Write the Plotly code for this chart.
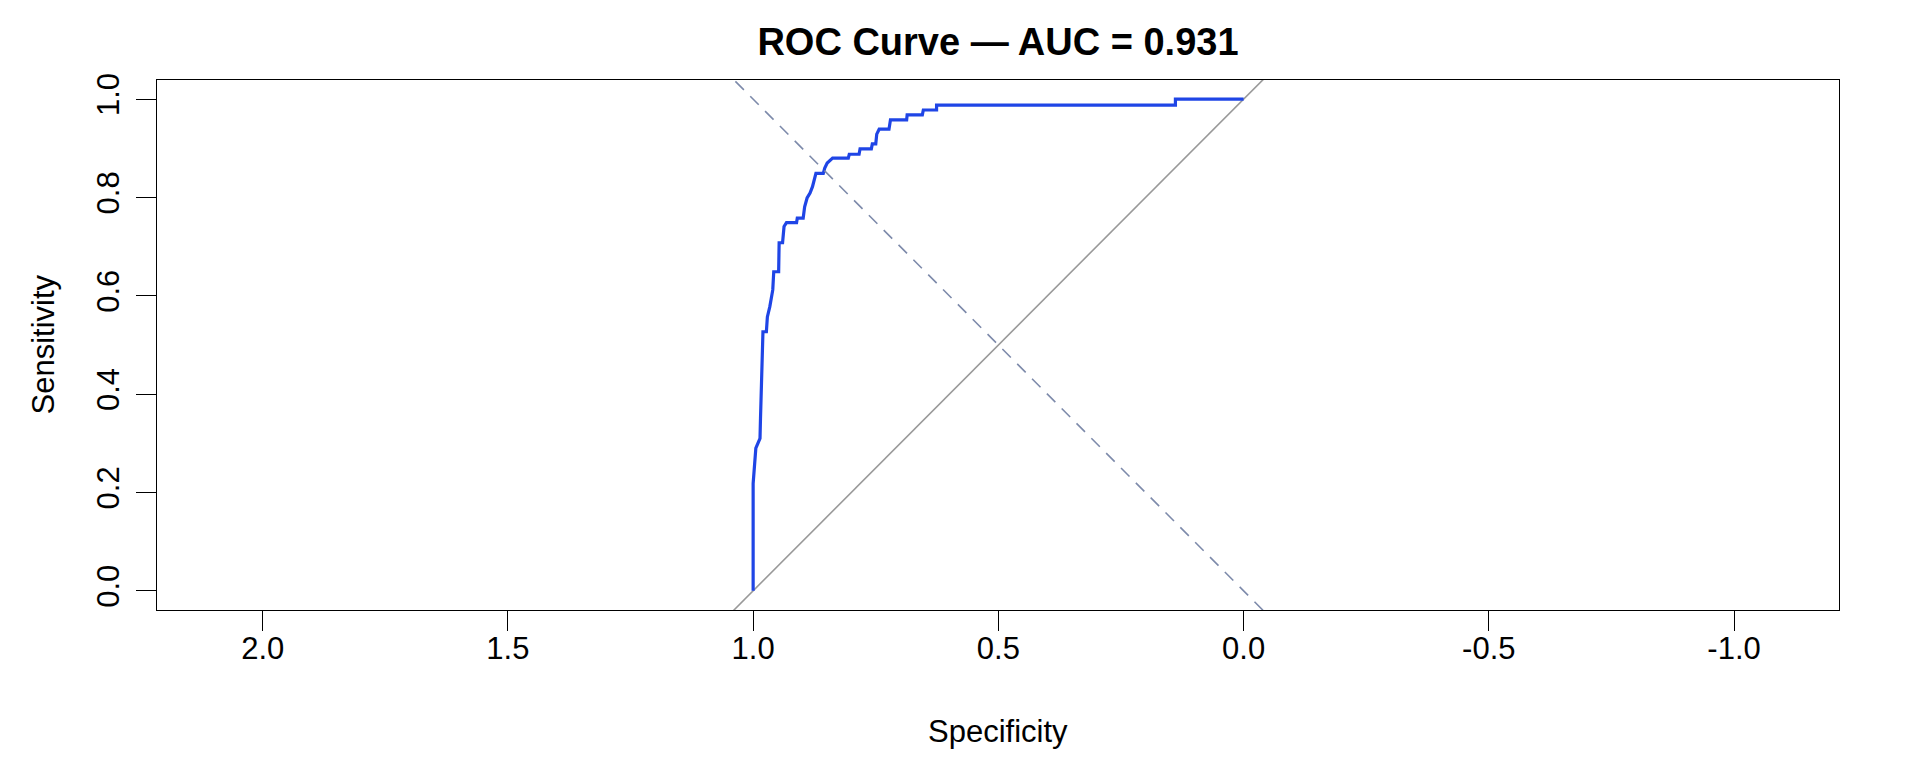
import plotly.graph_objects as go

# ROC curve vertices (specificity, sensitivity)
specificity = [1.000, 1.000, 0.9945, 0.986, 0.985, 0.981, 0.980, 0.973, 0.971, 0.966,
               0.960, 0.958, 0.948, 0.947, 0.940, 0.937, 0.932, 0.9115, 0.910, 0.898,
               0.895, 0.890, 0.884, 0.879, 0.872, 0.857, 0.854, 0.849, 0.838, 0.806,
               0.804, 0.784, 0.782, 0.759, 0.757, 0.750, 0.748, 0.743, 0.723, 0.720,
               0.687, 0.686, 0.655, 0.653, 0.626, 0.626, 0.139, 0.139, 0.000]
sensitivity = [0.000, 0.218, 0.290, 0.310, 0.351, 0.470, 0.527, 0.527, 0.557, 0.578,
               0.612, 0.649, 0.649, 0.708, 0.708, 0.741, 0.749, 0.749, 0.758, 0.758,
               0.781, 0.799, 0.809, 0.822, 0.849, 0.849, 0.860, 0.870, 0.880, 0.880,
               0.888, 0.888, 0.899, 0.899, 0.909, 0.909, 0.929, 0.939, 0.939, 0.958,
               0.958, 0.968, 0.968, 0.978, 0.978, 0.988, 0.988, 1.000, 1.000]

auc_value = 0.931
x_tick_vals = [2.0, 1.5, 1.0, 0.5, 0.0, -0.5, -1.0]
x_tick_text = ["2.0", "1.5", "1.0", "0.5", "0.0", "-0.5", "-1.0"]
y_tick_vals = [0.0, 0.2, 0.4, 0.6, 0.8, 1.0]
y_tick_text = ["0.0", "0.2", "0.4", "0.6", "0.8", "1.0"]
x_range = [2.2155, -1.214]
y_range = [-0.039, 1.039]

FONT = "Liberation Sans, Arial, Helvetica, sans-serif"

# reference lines spanning the full x range (clipped by the plot area)
identity_x = list(x_range)
identity_y = [1 - v for v in identity_x]
chance_x = list(x_range)
chance_y = [v for v in chance_x]

fig = go.Figure()
fig.add_trace(go.Scatter(x=identity_x, y=identity_y, mode="lines",
                         line=dict(color="#999999", width=1.6),
                         hoverinfo="skip", showlegend=False))
fig.add_trace(go.Scatter(x=specificity, y=sensitivity, mode="lines",
                         line=dict(color="#1F45E6", width=3.2),
                         showlegend=False))
fig.add_trace(go.Scatter(x=chance_x, y=chance_y, mode="lines",
                         line=dict(color="#7D8AAA", width=1.6, dash="12px,9px"),
                         hoverinfo="skip", showlegend=False))

axis_common = dict(showline=True, linecolor="black", linewidth=1.4, mirror=True,
                   ticks="outside", ticklen=20, tickwidth=1.4, tickcolor="black",
                   showgrid=False, zeroline=False,
                   tickfont=dict(family=FONT, size=31, color="black"))

# page body has an 8px margin: figure is 1904x752 placed at (8, 8)
W, H = 1904, 752
L, R, T, B = 149, 73, 72, 150
plot_h = H - T - B
plot_w = W - L - R

fig.update_layout(
    width=W, height=H,
    margin=dict(l=L, r=R, t=T, b=B),
    paper_bgcolor="white", plot_bgcolor="white",
    title=dict(text=f"<b>ROC Curve — AUC = {auc_value:.3f}</b>",
               x=(L + plot_w / 2) / W, xanchor="center",
               y=1 - 34 / H, yanchor="middle", yref="container",
               font=dict(family=FONT, size=38, color="black")),
    xaxis=dict(range=x_range, tickvals=x_tick_vals, ticktext=x_tick_text,
               ticklabelstandoff=-9, **axis_common),
    yaxis=dict(range=y_range, tickvals=y_tick_vals, ticktext=y_tick_text,
               tickangle=-90, ticklabelstandoff=4, **axis_common),
    annotations=[
        dict(text="Specificity", xref="paper", yref="paper",
             x=0.5, y=-(731.5 - 610) / plot_h, xanchor="center", yanchor="middle",
             showarrow=False, font=dict(family=FONT, size=31, color="black")),
        dict(text="Sensitivity", xref="paper", yref="paper", textangle=-90,
             x=-(157 - 42.5) / plot_w, y=0.5, xanchor="center", yanchor="middle",
             showarrow=False, font=dict(family=FONT, size=31, color="black")),
    ],
)

fig.write_html("out.html", config={"displayModeBar": False})
